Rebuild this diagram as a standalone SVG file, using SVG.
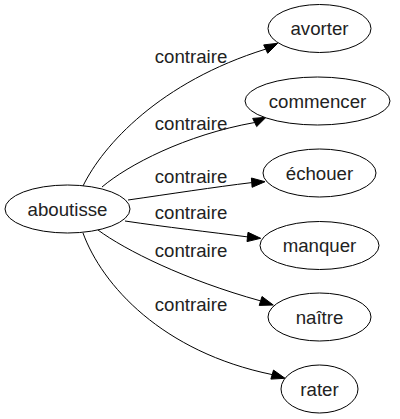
<svg xmlns="http://www.w3.org/2000/svg" width="400" height="419" viewBox="0 0 400 419">
<style>
.node ellipse{fill:#fff;stroke:#000;stroke-width:1}
text{font-family:"Liberation Sans",Arial,sans-serif;font-size:18.67px;fill:#222;text-anchor:middle}
.edge path{fill:none;stroke:#000;stroke-width:1}
.edge polygon{fill:#000;stroke:#000;stroke-width:1}
</style>
<rect width="400" height="419" fill="#fff"/>
<g id="edges">
<g class="edge" id="e-avorter">
<path d="M83,186 C103,145 160,82 265.7,49.1"/>
<polygon points="277.7,43.3 267.7,53.3 263.7,44.9"/>
<text x="191" y="63">contraire</text>
</g>
<g class="edge" id="e-commencer">
<path d="M102,187 C128,165 185,135 254.7,122.5"/>
<polygon points="266,117.3 256.7,126.6 252.7,118.4"/>
<text x="191" y="130">contraire</text>
</g>
<g class="edge" id="e-echouer">
<path d="M128,200 C170,194 215,187 251.7,182.6"/>
<polygon points="265,181.7 252.1,187.3 251.4,178"/>
<text x="191" y="183">contraire</text>
</g>
<g class="edge" id="e-manquer">
<path d="M125,221 C165,227 210,232 247.5,236.9"/>
<polygon points="260.7,238.3 247,241.6 248,232.3"/>
<text x="191" y="219">contraire</text>
</g>
<g class="edge" id="e-naitre">
<path d="M98,230 C125,250 185,280 260.6,300.9"/>
<polygon points="273.3,305 259.2,305.4 262,296.5"/>
<text x="191" y="257">contraire</text>
</g>
<g class="edge" id="e-rater">
<path d="M83,233 C102,285 162,352 272.2,374.6"/>
<polygon points="285,378.3 270.9,379.1 273.5,370.1"/>
<text x="191" y="310.5">contraire</text>
</g>
</g>
<g class="node" id="n-aboutisse"><ellipse cx="67.5" cy="209" rx="62.5" ry="24"/><text x="67.5" y="215.5">aboutisse</text></g>
<g class="node" id="n-avorter"><ellipse cx="319.5" cy="28.5" rx="51.5" ry="24"/><text x="319.5" y="35">avorter</text></g>
<g class="node" id="n-commencer"><ellipse cx="317.5" cy="101" rx="72.5" ry="24"/><text x="317.5" y="107.5">commencer</text></g>
<g class="node" id="n-echouer"><ellipse cx="319.5" cy="173" rx="56.5" ry="24"/><text x="319.5" y="179.5">échouer</text></g>
<g class="node" id="n-manquer"><ellipse cx="319.5" cy="245.5" rx="59.5" ry="24"/><text x="319.5" y="252">manquer</text></g>
<g class="node" id="n-naitre"><ellipse cx="319.5" cy="317" rx="51.5" ry="24"/><text x="319.5" y="323.5">naître</text></g>
<g class="node" id="n-rater"><ellipse cx="319.5" cy="389" rx="38.5" ry="24"/><text x="319.5" y="395.5">rater</text></g>
</svg>
